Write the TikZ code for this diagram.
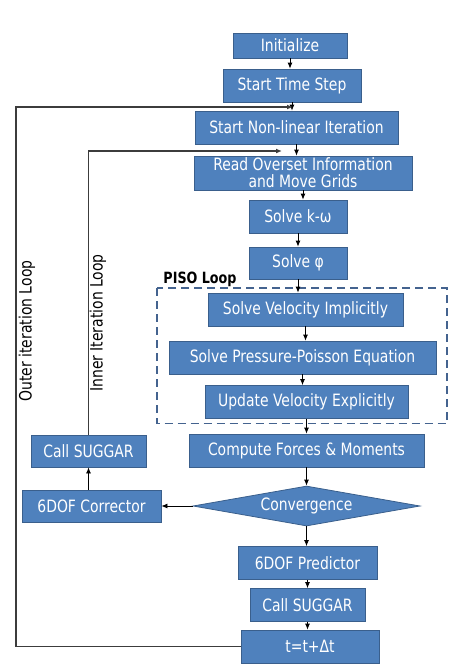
\documentclass[tikz,border=0pt]{standalone}
\usepackage{fontspec}
\setmainfont{DejaVu Sans}[FakeStretch=0.82]
\usetikzlibrary{shapes.geometric,arrows.meta}
\definecolor{boxblue}{HTML}{4F81BD}
\definecolor{boxedge}{HTML}{3A5F8C}
\definecolor{loopgray}{HTML}{3C3C3C}
\definecolor{pisoblue}{HTML}{44638F}

\begin{document}
\begin{tikzpicture}[x=1pt,y=-1pt,>={Latex[length=6pt,width=5pt]}]
    \tikzstyle{flow}=[draw=boxedge, fill=boxblue, text=white, line width=0.8pt,
        inner sep=0pt, minimum height=33pt, font=\fontsize{17}{17}\selectfont]
    \tikzstyle{process}=[flow, rectangle]
    \tikzstyle{decision}=[flow, diamond, aspect=5.7, minimum width=227pt, minimum height=40pt]
    \tikzstyle{link}=[->, black, line width=0.8pt]
    \tikzstyle{loop line}=[->, loopgray, line width=1.2pt]
    \tikzstyle{loop label}=[rotate=90, font=\fontsize{17}{17}\selectfont]

    \useasboundingbox (0,0) rectangle (450,664);

    % Draw the main column
    \node[process, minimum width=114pt, minimum height=25pt] (init) at (290,45.5) {Initialize};
    \node[process, minimum width=138pt] (tstep) at (292,85.5) {Start Time Step};
    \node[process, minimum width=203pt] (nonlin) at (296.5,127.5) {Start Non-linear Iteration};
    \node[process, minimum width=218pt, minimum height=34pt, align=center] (overset) at (303,173)
        {Read Overset Information\\and Move Grids};
    \node[process, minimum width=98pt] (komega) at (298,216.5) {Solve k-ω};
    \node[process, minimum width=98pt, minimum height=32pt] (phi) at (298,263) {Solve φ};

    % Draw the PISO loop
    \draw[pisoblue, line width=1.6pt, dash pattern=on 8pt off 5pt] (157,288) rectangle (447,423.5);
    \node[font=\fontsize{15.5}{16}\selectfont\bfseries] (pisolbl) at (200,279) {PISO Loop};
    \node[process, minimum width=195pt] (velimp) at (305.5,309.5) {Solve Velocity Implicitly};
    \node[process, minimum width=267pt] (press) at (302.5,357.5) {Solve Pressure-Poisson Equation};
    \node[process, minimum width=203pt] (velexp) at (306.5,402) {Update Velocity Explicitly};

    \node[process, minimum width=235pt] (forces) at (306.5,450.5) {Compute Forces \& Moments};
    \node[decision] (conv) at (306.5,506) {Convergence};
    \node[process, minimum width=139pt] (pred) at (307.5,563) {6DOF Predictor};
    \node[process, minimum width=115pt] (callR) at (307.5,605) {Call SUGGAR};
    \node[process, minimum width=138pt] (tdt) at (310,646.5) {t=t+Δt};

    % Draw the corrector branch
    \node[process, minimum width=139pt, minimum height=32pt] (corr) at (91.5,506) {6DOF Corrector};
    \node[process, minimum width=115pt, minimum height=32pt] (callL) at (88.5,451) {Call SUGGAR};

    % Connect the main column
    \foreach \a/\b in {init/tstep, tstep/nonlin, nonlin/overset, overset/komega, komega/phi,
                       phi/velimp, velimp/press, press/velexp, velexp/forces, forces/conv,
                       conv/pred, pred/callR, callR/tdt}
        \draw[link] (\a.south) -- (\a.south |- \b.north);

    \draw[link] (conv.west) -- (corr.east);
    \draw[link] (corr.north -| callL.south) -- (callL.south);

    % Iteration loops
    \coordinate (outer) at (16,107);
    \coordinate (outerend) at (293,107);
    \coordinate (innerend) at (282,151);
    \draw[loop line] (tdt.west) -| (outer) -- (outerend);
    \draw[loop line] (callL.north) |- (innerend);
    \node[loop label] (outerlbl) at (27,331) {Outer iteration Loop};
    \node[loop label] (innerlbl) at (98,323) {Inner Iteration Loop};
\end{tikzpicture}
\end{document}
